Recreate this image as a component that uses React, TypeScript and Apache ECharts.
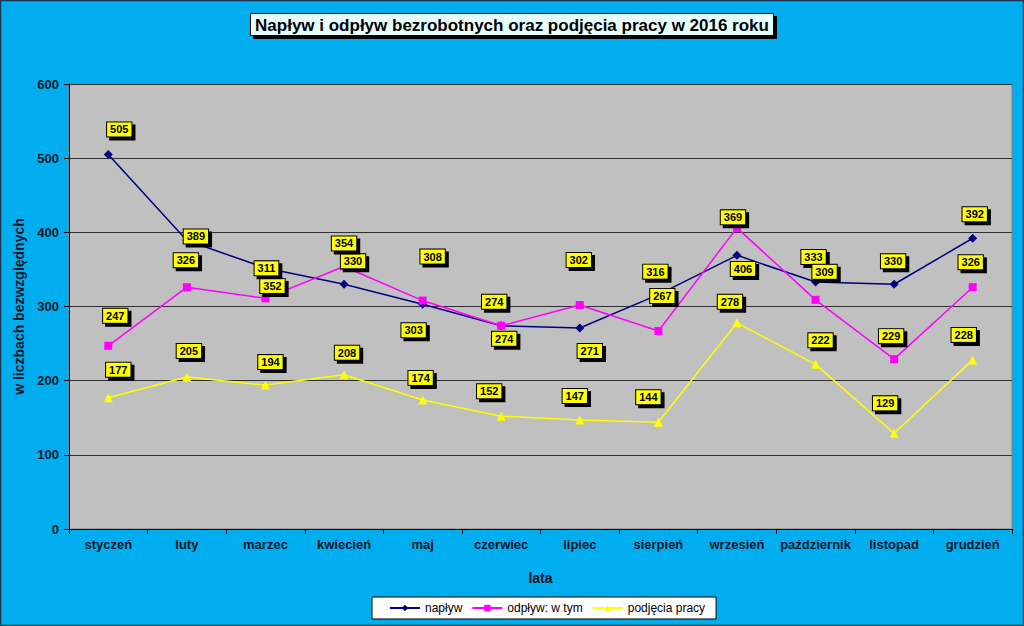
import React, { useEffect, useRef } from "react";
import * as echarts from "echarts";

const months = ["styczeń", "luty", "marzec", "kwiecień", "maj", "czerwiec", "lipiec", "sierpień", "wrzesień", "październik", "listopad", "grudzień"];
const naplyw = [505, 389, 352, 330, 303, 274, 271, 316, 369, 333, 330, 392];
const odplyw = [247, 326, 311, 354, 308, 274, 302, 267, 406, 309, 229, 326];
const podjecia = [177, 205, 194, 208, 174, 152, 147, 144, 278, 222, 129, 228];
const yTicks = [0, 100, 200, 300, 400, 500, 600];

// label offsets (pixels) relative to each point, as placed in the original chart
const naplywOffsets = [[11, -25], [9, -4], [7, 18], [9, -23], [-9, 26], [-7, -24], [10, 23], [-3, -23], [-4, -38], [-2, -25], [-1, -23], [2, -24]];
const odplywOffsets = [[7, -30], [-1, -27], [1, -30], [0, -23], [10, -44], [3, 13], [-1, -45], [4, -35], [6, 41], [9, -28], [-3, -23], [-2, -25]];
const podjeciaOffsets = [[10, -28], [2, -26], [5, -23], [3, -22], [-2, -22], [-12, -25], [-5, -24], [-10, -25], [-7, -21], [5, -24], [-9, -30], [-9, -25]];

const FONT = "'Liberation Sans', Arial, sans-serif";
const TXT = "#0a1628";

const labelStyle = {
  show: true,
  position: "inside",
  backgroundColor: "#FFFF00",
  borderColor: "#000000",
  borderWidth: 1,
  padding: [2, 3, 1, 3],
  color: "#000000",
  fontFamily: FONT,
  fontSize: 11,
  fontWeight: "bold",
  shadowColor: "#000000",
  shadowOffsetX: 3,
  shadowOffsetY: 3,
  shadowBlur: 0.01,
};

function layoutFrom(offsets: number[][]) {
  return (params: any) => {
    const o = offsets[params.dataIndex] || [0, 0];
    return { dx: o[0], dy: o[1], hideOverlap: false };
  };
}

export default function App() {
  const ref = useRef<HTMLDivElement>(null);
  useEffect(() => {
    if (!ref.current) return;
    const chart = echarts.init(ref.current, undefined, { renderer: "svg" });
    chart.setOption({
      animation: false,
      backgroundColor: "#00AEEF",
      title: {
        text: "Napływ i odpływ bezrobotnych oraz podjęcia pracy w 2016 roku",
        left: "center",
        top: 13,
        padding: [3, 5, 2, 5],
        backgroundColor: "#E8FFFF",
        borderColor: "#000000",
        borderWidth: 1,
        shadowColor: "#000000",
        shadowOffsetX: 3,
        shadowOffsetY: 3,
        shadowBlur: 0.01,
        textStyle: { fontFamily: FONT, fontSize: 17, fontWeight: "bold", color: "#000000", lineHeight: 18 },
      },
      legend: {
        left: 372,
        top: 597,
        padding: [5, 11, 5, 17],
        itemGap: 9,
        itemWidth: 30,
        itemHeight: 8,
        backgroundColor: "#FFFFFF",
        borderColor: "#000000",
        borderWidth: 1,
        textStyle: { fontFamily: FONT, fontSize: 12, color: "#000000" },
        data: ["napływ", "odpływ: w tym", "podjęcia pracy"],
      },
      graphic: [
        {
          type: "rect",
          shape: { x: 0.5, y: 0.5, width: 1023, height: 625 },
          style: { fill: "none", stroke: "#1a3550", lineWidth: 1.5 },
          z: 100,
        },
      ],
      grid: { left: 69, right: 12, top: 84, bottom: 97, show: true, backgroundColor: "#C0C0C0", borderColor: "#808080", borderWidth: 1 },
      xAxis: {
        type: "category",
        data: months,
        boundaryGap: true,
        name: "lata",
        nameLocation: "middle",
        nameGap: 42,
        nameTextStyle: { fontFamily: FONT, fontSize: 14, fontWeight: "bold", color: TXT },
        axisLine: { lineStyle: { color: "#000000", width: 1 } },
        axisTick: { show: true, length: 5, lineStyle: { color: "#000000" } },
        axisLabel: { fontFamily: FONT, fontSize: 13, fontWeight: "bold", color: TXT, margin: 9, interval: 0 },
      },
      yAxis: {
        type: "value",
        min: yTicks[0],
        max: yTicks[yTicks.length - 1],
        interval: 100,
        name: "w liczbach bezwzględnych",
        nameLocation: "middle",
        nameGap: 37,
        nameTextStyle: { fontFamily: FONT, fontSize: 14, fontWeight: "bold", color: TXT },
        axisLine: { show: true, lineStyle: { color: "#000000", width: 1 } },
        axisTick: { show: true, length: 5, lineStyle: { color: "#000000" } },
        axisLabel: { fontFamily: FONT, fontSize: 13, fontWeight: "bold", color: TXT, margin: 10 },
        splitLine: { lineStyle: { color: "#303030", width: 1 } },
      },
      series: [
        {
          name: "napływ",
          type: "line",
          data: naplyw,
          symbol: "diamond",
          symbolSize: 9,
          lineStyle: { color: "#000080", width: 1.5 },
          itemStyle: { color: "#000080" },
          label: labelStyle,
          labelLayout: layoutFrom(naplywOffsets),
          z: 3,
        },
        {
          name: "odpływ: w tym",
          type: "line",
          data: odplyw,
          symbol: "rect",
          symbolSize: 8,
          lineStyle: { color: "#FF00FF", width: 1.5 },
          itemStyle: { color: "#FF00FF" },
          label: labelStyle,
          labelLayout: layoutFrom(odplywOffsets),
          z: 3,
        },
        {
          name: "podjęcia pracy",
          type: "line",
          data: podjecia,
          symbol: "triangle",
          symbolSize: 9,
          lineStyle: { color: "#FFFF00", width: 1.5 },
          itemStyle: { color: "#FFFF00" },
          label: labelStyle,
          labelLayout: layoutFrom(podjeciaOffsets),
          z: 3,
        },
      ],
    });
    return () => chart.dispose();
  }, []);
  return <div ref={ref} style={{ position: "fixed", left: 0, top: 0, width: 1024, height: 626 }} />;
}
